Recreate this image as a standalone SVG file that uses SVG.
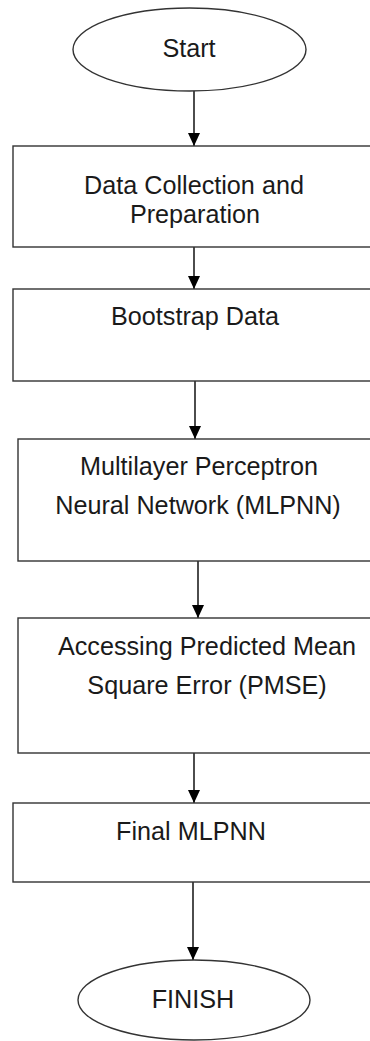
<svg xmlns="http://www.w3.org/2000/svg" width="370" height="1041" viewBox="0 0 370 1041">
<defs>
<marker id="arr" markerUnits="userSpaceOnUse" markerWidth="13" markerHeight="12" refX="13" refY="6" orient="auto" viewBox="0 0 13 12">
<path d="M0,0 L13,6 L0,12 Z" fill="#000"/>
</marker>
<style>
.shape{fill:#fff;stroke:#333;stroke-width:1.4}
.conn{stroke:#000;stroke-width:1.4;fill:none}
.lbl{font-family:"Liberation Sans",Arial,sans-serif;font-size:25.2px;fill:#1a1a1a;text-anchor:middle}
</style>
</defs>
<rect width="370" height="1041" fill="#fff"/>
<g id="connectors">
<line class="conn" x1="194" y1="91" x2="194" y2="146" marker-end="url(#arr)"/>
<line class="conn" x1="194" y1="247" x2="194" y2="289" marker-end="url(#arr)"/>
<line class="conn" x1="195" y1="381" x2="195" y2="439" marker-end="url(#arr)"/>
<line class="conn" x1="198" y1="561" x2="198" y2="618" marker-end="url(#arr)"/>
<line class="conn" x1="194" y1="753" x2="194" y2="803" marker-end="url(#arr)"/>
<line class="conn" x1="193" y1="882" x2="193" y2="960" marker-end="url(#arr)"/>
</g>
<g id="start">
<ellipse class="shape" cx="189.5" cy="49.5" rx="116.5" ry="41.5"/>
<text class="lbl" x="189" y="57">Start</text>
</g>
<g id="data-collection">
<rect class="shape" x="13" y="146" width="380" height="101"/>
<text class="lbl" x="194" y="194">Data Collection and</text>
<text class="lbl" x="195" y="223">Preparation</text>
</g>
<g id="bootstrap">
<rect class="shape" x="13" y="289" width="380" height="92"/>
<text class="lbl" x="195" y="325">Bootstrap Data</text>
</g>
<g id="mlpnn">
<rect class="shape" x="18" y="439" width="380" height="122"/>
<text class="lbl" x="199" y="475">Multilayer Perceptron</text>
<text class="lbl" x="198" y="514">Neural Network (MLPNN)</text>
</g>
<g id="pmse">
<rect class="shape" x="18" y="618" width="380" height="135"/>
<text class="lbl" x="207" y="655">Accessing Predicted Mean</text>
<text class="lbl" x="207" y="694">Square Error (PMSE)</text>
</g>
<g id="final">
<rect class="shape" x="13" y="803" width="380" height="79"/>
<text class="lbl" x="191" y="840">Final MLPNN</text>
</g>
<g id="finish">
<ellipse class="shape" cx="194" cy="1000" rx="116" ry="40"/>
<text class="lbl" x="193" y="1008">FINISH</text>
</g>
</svg>
